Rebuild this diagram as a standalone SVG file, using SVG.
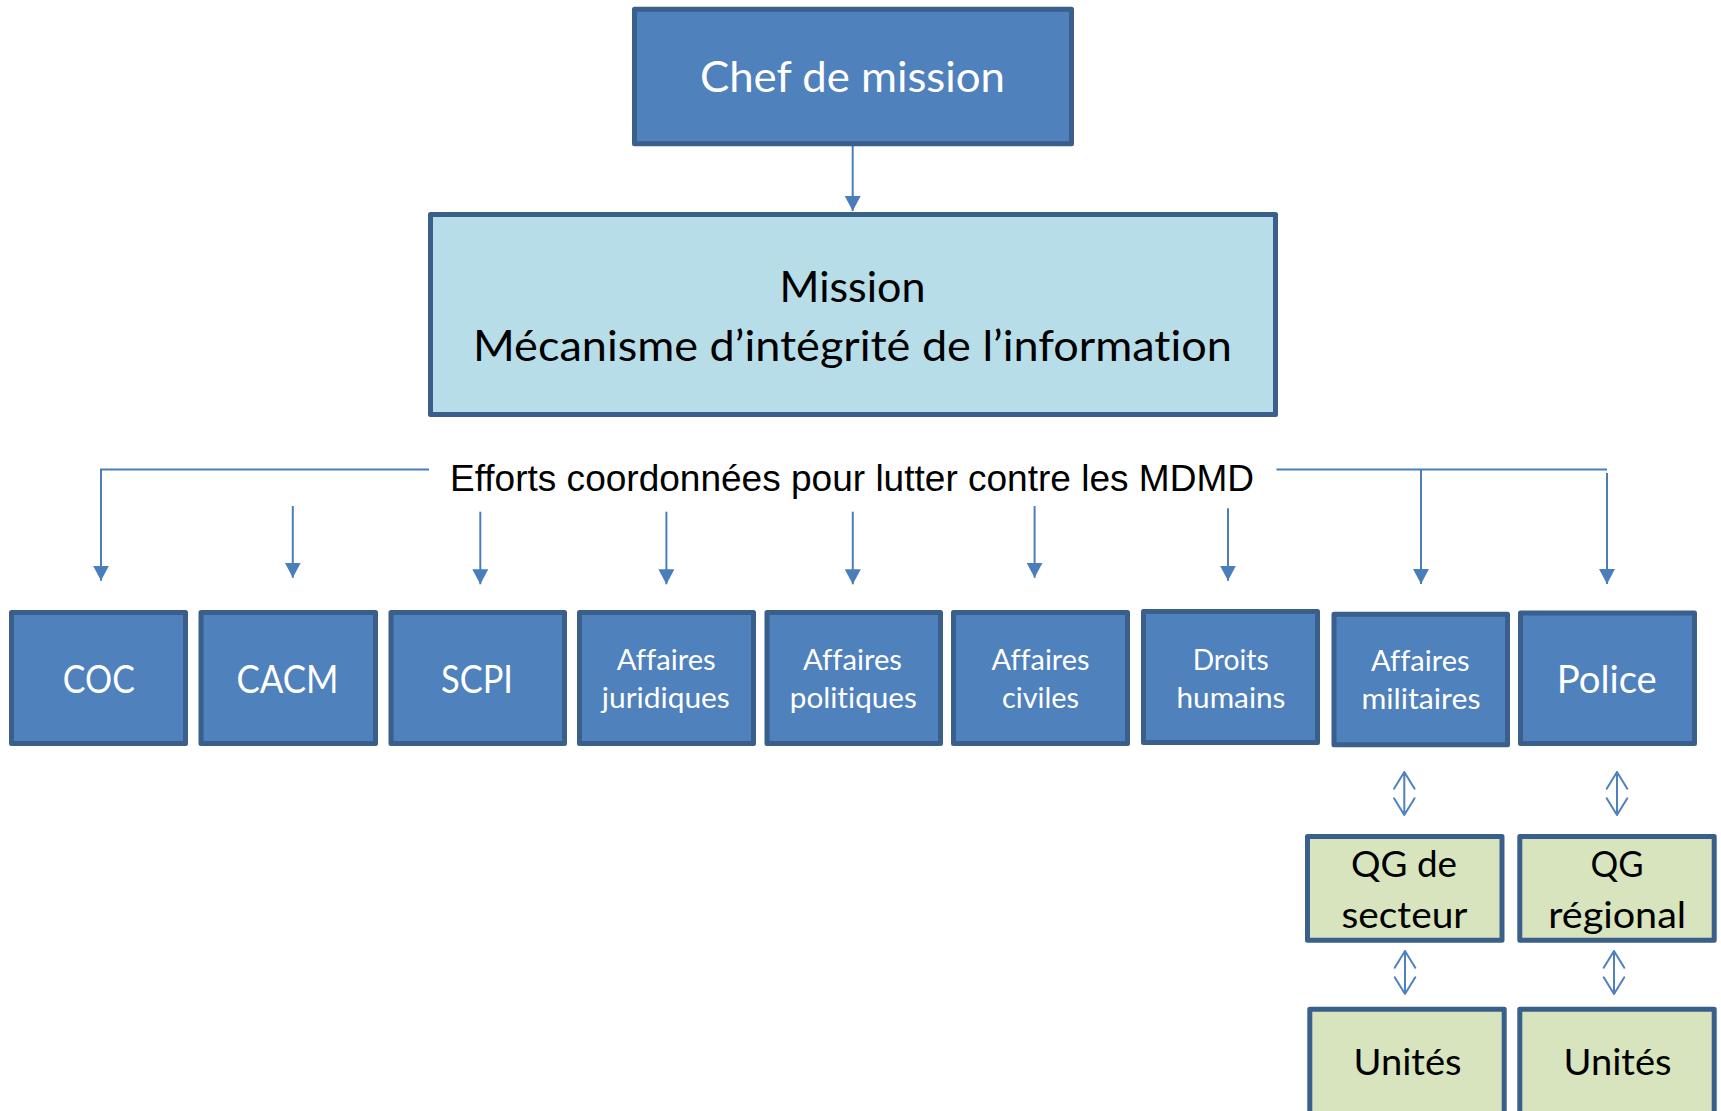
<svg xmlns="http://www.w3.org/2000/svg" width="1721" height="1111" viewBox="0 0 1721 1111">
<style>
.blue{fill:#4f81bd;stroke:#3a5f8b;stroke-width:5;stroke-linejoin:round}
.light{fill:#b7dde8;stroke:#3a5f8b;stroke-width:5;stroke-linejoin:round}
.green{fill:#d7e4bd;stroke:#3a5f8b;stroke-width:5;stroke-linejoin:round}
text{font-variant-ligatures:none;font-feature-settings:"liga" 0,"clig" 0}
.wt{fill:#ffffff;font-family:Lato,"Open Sans",sans-serif;text-anchor:middle}
.bt{fill:#000000;font-family:Lato,"Open Sans",sans-serif;text-anchor:middle}
.big{font-size:42px}
.one{font-size:38.5px}
.two{font-size:28.4px}
.gr{font-size:37.2px}
.conn{fill:none;stroke:#4a7ebb;stroke-width:2}
.dbl{fill:none;stroke:#4f81bd;stroke-width:2;stroke-linecap:round;stroke-linejoin:round}
</style>
<defs>
<marker id="ah" markerUnits="userSpaceOnUse" markerWidth="15" markerHeight="16" viewBox="0 0 15 16" refX="15" refY="8" orient="auto">
<path d="M0,0 L15,8 L0,16 z" fill="#4a7ebb"/>
</marker>
</defs>

<g id="connectors">
<line class="conn" x1="852.7" y1="146" x2="852.7" y2="211" marker-end="url(#ah)"/>
<polyline class="conn" points="429,469.5 101,469.5 101,580.7" marker-end="url(#ah)"/>
<line class="conn" x1="292.8" y1="506" x2="292.8" y2="577.7" marker-end="url(#ah)"/>
<line class="conn" x1="480.3" y1="511.7" x2="480.3" y2="584.3" marker-end="url(#ah)"/>
<line class="conn" x1="666.4" y1="511.7" x2="666.4" y2="584.3" marker-end="url(#ah)"/>
<line class="conn" x1="852.8" y1="511.7" x2="852.8" y2="584.3" marker-end="url(#ah)"/>
<line class="conn" x1="1034.6" y1="506" x2="1034.6" y2="577.7" marker-end="url(#ah)"/>
<line class="conn" x1="1228" y1="508.3" x2="1228" y2="580.7" marker-end="url(#ah)"/>
<line class="conn" x1="1276.5" y1="469.5" x2="1607" y2="469.5"/>
<line class="conn" x1="1421" y1="469.5" x2="1421" y2="584" marker-end="url(#ah)"/>
<line class="conn" x1="1607" y1="473" x2="1607" y2="584" marker-end="url(#ah)"/>
<path class="dbl" d="M1404.3,772 V815 M1394,788.7 L1404.3,772 L1414.6,788.7 M1394,798.3 L1404.3,815 L1414.6,798.3"/>
<path class="dbl" d="M1617,772 V815 M1606.7,788.7 L1617,772 L1627.3,788.7 M1606.7,798.3 L1617,815 L1627.3,798.3"/>
<path class="dbl" d="M1405,951 V994 M1394.7,967.7 L1405,951 L1415.3,967.7 M1394.7,977.3 L1405,994 L1415.3,977.3"/>
<path class="dbl" d="M1614,951 V994 M1603.7,967.7 L1614,951 L1624.3,967.7 M1603.7,977.3 L1614,994 L1624.3,977.3"/>
</g>

<text x="852" y="491" font-family="'Liberation Sans',Arial,sans-serif" font-size="37" fill="#000" text-anchor="middle" textLength="804" lengthAdjust="spacingAndGlyphs">Efforts coordonnées pour lutter contre les MDMD</text>

<g id="chef">
<rect class="blue" x="634.5" y="9.2" width="437" height="134.5"/>
<text class="wt big" x="852.5" y="91.7" textLength="305" lengthAdjust="spacingAndGlyphs">Chef de mission</text>
</g>

<g id="mission">
<rect class="light" x="430.5" y="214.5" width="845" height="200"/>
<text class="bt big" x="852.5" y="302" textLength="146" lengthAdjust="spacingAndGlyphs">Mission</text>
<text class="bt big" x="852.5" y="361" textLength="759" lengthAdjust="spacingAndGlyphs">Mécanisme d’intégrité de l’information</text>
</g>

<g id="coc">
<rect class="blue" x="11.5" y="612.5" width="174" height="131"/>
<text class="wt one" x="98.8" y="693" textLength="72" lengthAdjust="spacingAndGlyphs">COC</text>
</g>
<g id="cacm">
<rect class="blue" x="201" y="612.5" width="174.5" height="131"/>
<text class="wt one" x="287.5" y="693" textLength="102" lengthAdjust="spacingAndGlyphs">CACM</text>
</g>
<g id="scpi">
<rect class="blue" x="391" y="612.5" width="173.5" height="131"/>
<text class="wt one" x="477" y="693" textLength="72" lengthAdjust="spacingAndGlyphs">SCPI</text>
</g>
<g id="aff-juridiques">
<rect class="blue" x="579.5" y="612.5" width="174" height="131"/>
<text class="wt two" x="666.2" y="670" textLength="99" lengthAdjust="spacingAndGlyphs">Affaires</text>
<text class="wt two" x="665.8" y="708" textLength="128" lengthAdjust="spacingAndGlyphs">juridiques</text>
</g>
<g id="aff-politiques">
<rect class="blue" x="767" y="612.5" width="173.5" height="131"/>
<text class="wt two" x="852.5" y="670" textLength="99" lengthAdjust="spacingAndGlyphs">Affaires</text>
<text class="wt two" x="853.3" y="708" textLength="127" lengthAdjust="spacingAndGlyphs">politiques</text>
</g>
<g id="aff-civiles">
<rect class="blue" x="953.5" y="612.5" width="174" height="131"/>
<text class="wt two" x="1040.5" y="670" textLength="98" lengthAdjust="spacingAndGlyphs">Affaires</text>
<text class="wt two" x="1040.5" y="708" textLength="77" lengthAdjust="spacingAndGlyphs">civiles</text>
</g>
<g id="droits-humains">
<rect class="blue" x="1143.5" y="611.5" width="174" height="131"/>
<text class="wt two" x="1230.7" y="669.5" textLength="76" lengthAdjust="spacingAndGlyphs">Droits</text>
<text class="wt two" x="1231" y="707.5" textLength="109" lengthAdjust="spacingAndGlyphs">humains</text>
</g>
<g id="aff-militaires">
<rect class="blue" x="1334" y="614.3" width="173.5" height="130.5"/>
<text class="wt two" x="1420.3" y="671" textLength="98.5" lengthAdjust="spacingAndGlyphs">Affaires</text>
<text class="wt two" x="1421" y="709.3" textLength="119" lengthAdjust="spacingAndGlyphs">militaires</text>
</g>
<g id="police">
<rect class="blue" x="1520.5" y="613" width="174" height="130.5"/>
<text class="wt one" x="1606.8" y="693" textLength="100" lengthAdjust="spacingAndGlyphs">Police</text>
</g>

<g id="qg-secteur">
<rect class="green" x="1307.5" y="836.5" width="194.5" height="103.7"/>
<text class="bt gr" x="1404" y="876.7" textLength="106" lengthAdjust="spacingAndGlyphs">QG de</text>
<text class="bt gr" x="1404.5" y="928.3" textLength="126" lengthAdjust="spacingAndGlyphs">secteur</text>
</g>
<g id="qg-regional">
<rect class="green" x="1519.8" y="836.5" width="194.4" height="103.7"/>
<text class="bt gr" x="1617" y="876.7" textLength="53" lengthAdjust="spacingAndGlyphs">QG</text>
<text class="bt gr" x="1617.2" y="928.3" textLength="138" lengthAdjust="spacingAndGlyphs">régional</text>
</g>
<g id="unites-1">
<rect class="green" x="1309.8" y="1009.2" width="194.4" height="140"/>
<text class="bt gr" x="1407.5" y="1075" textLength="108" lengthAdjust="spacingAndGlyphs">Unités</text>
</g>
<g id="unites-2">
<rect class="green" x="1519.8" y="1009.2" width="194.4" height="140"/>
<text class="bt gr" x="1617.5" y="1075" textLength="108" lengthAdjust="spacingAndGlyphs">Unités</text>
</g>
</svg>
